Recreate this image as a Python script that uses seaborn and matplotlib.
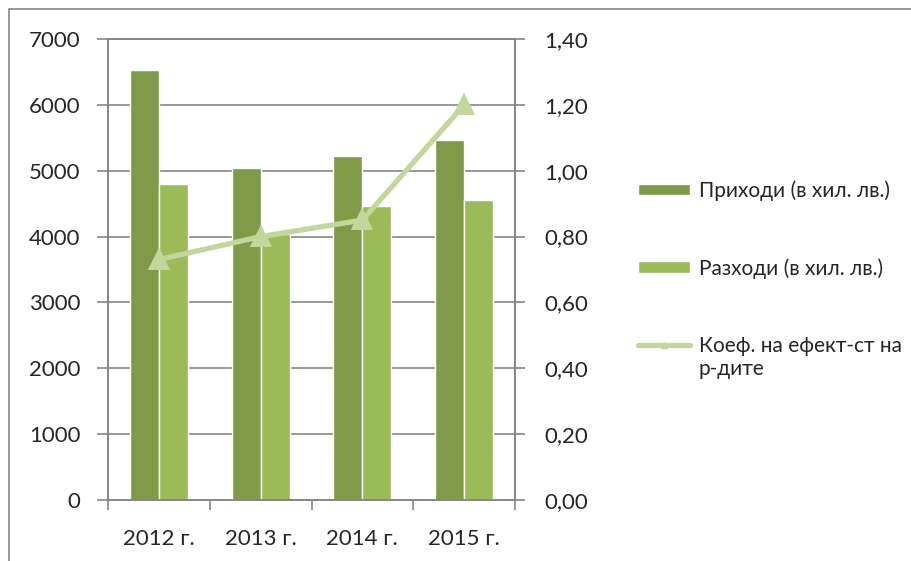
import matplotlib
matplotlib.use("Agg")
import matplotlib.pyplot as plt
from matplotlib.patches import Patch, Rectangle
from matplotlib.lines import Line2D
from matplotlib.ticker import FuncFormatter, FixedLocator
import seaborn as sns
import pandas as pd

# данни
years = ["2012 г.", "2013 г.", "2014 г.", "2015 г."]
income = [6530, 5045, 5225, 5465]
expenses = [4800, 4040, 4470, 4555]
coef = [0.73, 0.80, 0.85, 1.20]

income_label = "Приходи (в хил. лв.)"
expenses_label = "Разходи (в хил. лв.)"
coef_label_1 = "Коеф. на ефект-ст на"
coef_label_2 = "р-дите"

sns.set_style("white")
plt.rcParams["font.family"] = ["Lato", "Open Sans", "DejaVu Sans"]
plt.rcParams["font.size"] = 16

GRAY = "#868686"
DARK = "#7F9A48"
LIGHT = "#9BBB59"
LINE = "#C3D69B"
LEGEND_FS = 15

df = pd.DataFrame({
    "year": years * 2,
    "value": income + expenses,
    "series": [income_label] * len(years) + [expenses_label] * len(years),
})
df_coef = pd.DataFrame({"year": years, "coef": coef})

fig = plt.figure(figsize=(9.11, 5.61), dpi=100)
ax = fig.add_axes([108 / 911, 1 - 500 / 561, (515 - 108) / 911, (500 - 39) / 561])

sns.barplot(data=df, x="year", y="value", hue="series", order=years,
            palette=[DARK, LIGHT], width=0.57, saturation=1, ax=ax, legend=False)

ax.set_ylim(0, 7000)
ax.set_yticks(range(0, 7001, 1000))
ax.yaxis.grid(True, color=GRAY, linewidth=1.2)
ax.set_axisbelow(True)
ax.set_xlabel("")
ax.set_ylabel("")

ax2 = ax.twinx()
sns.pointplot(data=df_coef, x="year", y="coef", order=years, color=LINE,
              markers="^", linestyles="-", linewidth=3.8, markersize=11, ax=ax2)
ax2.set_ylim(0, 1.4)
ax2.set_yticks([i * 0.2 for i in range(8)])
ax2.yaxis.set_major_formatter(FuncFormatter(lambda v, p: f"{v:.2f}".replace(".", ",")))
ax2.set_ylabel("")
ax.set_xlim(-0.5, len(years) - 0.5)

# x ticks: labels at centres, tick marks between categories
ax.set_xticks(range(len(years)))
ax.set_xticklabels(years)
ax.tick_params(axis="x", which="major", length=0, pad=21)
ax.xaxis.set_minor_locator(FixedLocator([i - 0.5 for i in range(len(years) + 1)]))
ax.tick_params(axis="x", which="minor", length=7, color=GRAY, width=1.2, direction="out", bottom=True)
ax.tick_params(axis="y", length=8, color=GRAY, width=1.2, direction="out", left=True, pad=12)
ax2.tick_params(axis="y", length=7, color=GRAY, width=1.2, direction="out", right=True, pad=14)

for a in (ax, ax2):
    for side in a.spines:
        a.spines[side].set_color(GRAY)
        a.spines[side].set_linewidth(1.2)
    a.spines["top"].set_visible(True)

handles = [
    Patch(facecolor=DARK, label=income_label),
    Patch(facecolor=LIGHT, label=expenses_label),
    Line2D([], [], color=LINE, linewidth=3.8, marker="^", markersize=5, label=coef_label_1),
]
leg = fig.legend(handles=handles, loc="upper left", bbox_to_anchor=(630 / 911, 1 - 172 / 561),
                 frameon=False, labelspacing=2.75, handlelength=2.5, handleheight=0.5,
                 handletextpad=0.4, fontsize=LEGEND_FS, borderaxespad=0)

# втори ред на последния запис в легендата
fig.canvas.draw()
bb = leg.get_texts()[2].get_window_extent().transformed(fig.transFigure.inverted())
fig.text(bb.x0, (bb.y0 + bb.y1) / 2 - 23 / 561, coef_label_2, fontsize=LEGEND_FS,
         va="center", ha="left")

# рамка на диаграмата
fig.add_artist(Rectangle((9 / 911, -0.5), 2, 1.5 - 9 / 561, transform=fig.transFigure,
                         fill=False, edgecolor=GRAY, linewidth=1.2))

fig.savefig("out.png", dpi=100)
